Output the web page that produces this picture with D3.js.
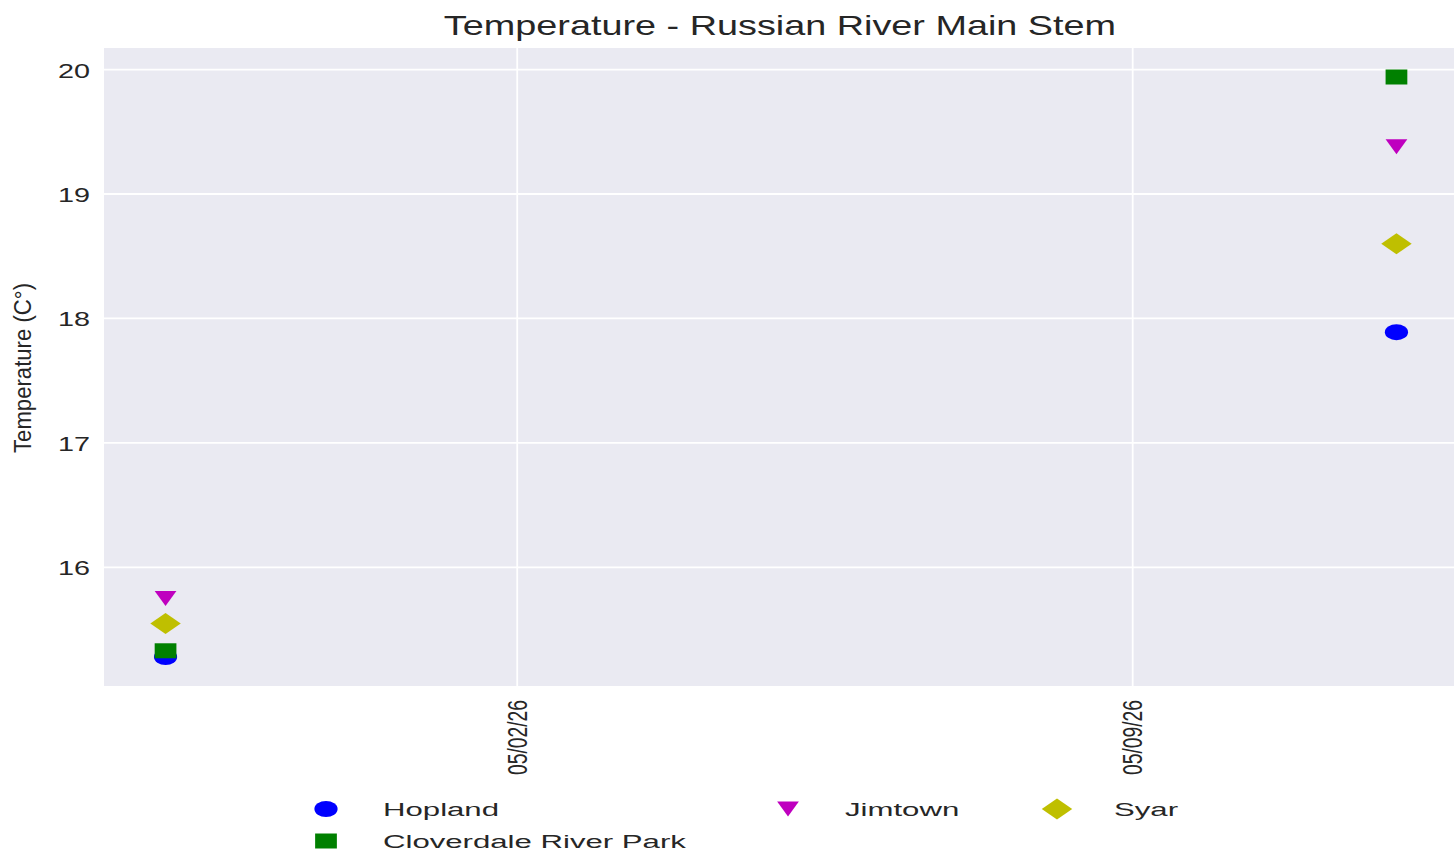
<!DOCTYPE html>
<html lang="en">
<head>
<meta charset="utf-8">
<title>Temperature - Russian River Main Stem</title>
<script src="https://cdn.jsdelivr.net/npm/d3@7"></script>
<style>
  body { margin: 0; background: #fff; }
  text { font-family: "Liberation Sans", Arial, sans-serif; fill: #262626; }
</style>
</head>
<body>
<div id="chart"></div>
<script>
// sample dates and temperatures (C) per site
var dates = ["2026-04-28", "2026-05-12"];
var hopland = [15.28, 17.89];
var cloverdale = [15.33, 19.94];
var jimtown = [15.75, 19.38];
var syar = [15.55, 18.60];
var siteNames = ["Hopland", "Cloverdale River Park", "Jimtown", "Syar"];
var xTicks = ["2026-05-02", "2026-05-09"];
var yTicks = [16, 17, 18, 19, 20];

var W = 1454, H = 859;
// the plot runs a few pixels past the right edge of the picture
var margin = {top: 48, right: -4, bottom: 173, left: 104};
var sx = 1.45; // the picture is stretched sideways

var parse = d3.timeParse("%Y-%m-%d");
var fmt = d3.timeFormat("%m/%d/%y");

// custom marker shapes
var triDown = { draw: function(ctx, size) {
  var r = Math.sqrt(size) / 2;
  ctx.moveTo(-r, -r); ctx.lineTo(r, -r); ctx.lineTo(0, r); ctx.closePath();
}};
var diamond = { draw: function(ctx, size) {
  var r = Math.sqrt(size) / 2;
  ctx.moveTo(0, -r); ctx.lineTo(r, 0); ctx.lineTo(0, r); ctx.lineTo(-r, 0); ctx.closePath();
}};

var series = [
  {name: siteNames[0], values: hopland,    color: "#0000ff", type: d3.symbolCircle, size: Math.PI * 64},
  {name: siteNames[1], values: cloverdale, color: "#008000", type: d3.symbolSquare, size: 225},
  {name: siteNames[2], values: jimtown,    color: "#bf00bf", type: triDown,         size: 225},
  {name: siteNames[3], values: syar,       color: "#bfbf00", type: diamond,         size: 441}
];

var svg = d3.select("#chart").append("svg")
    .attr("width", W).attr("height", H);

// x scale with 5% padding like matplotlib
var tDates = dates.map(parse);
var span = tDates[1] - tDates[0];
var xScale = d3.scaleTime()
    .domain([new Date(+tDates[0] - span * 0.05), new Date(+tDates[1] + span * 0.05)])
    .range([margin.left, W - margin.right]);

var allVals = hopland.concat(cloverdale, jimtown, syar);
var yMin = d3.min(allVals), yMax = d3.max(allVals), yPad = (yMax - yMin) * 0.05;
var yScale = d3.scaleLinear()
    .domain([yMin - yPad, yMax + yPad])
    .range([H - margin.bottom, margin.top]);

// plot background
svg.append("rect")
    .attr("x", margin.left).attr("y", margin.top)
    .attr("width", W - margin.left - margin.right)
    .attr("height", H - margin.top - margin.bottom)
    .attr("fill", "#eaeaf2");

// grid lines
svg.append("g").selectAll("line").data(yTicks).enter().append("line")
    .attr("x1", margin.left).attr("x2", W - margin.right)
    .attr("y1", d => yScale(d)).attr("y2", d => yScale(d))
    .attr("stroke", "#fff").attr("stroke-width", 1.8);

svg.append("g").selectAll("line").data(xTicks).enter().append("line")
    .attr("x1", d => xScale(parse(d))).attr("x2", d => xScale(parse(d)))
    .attr("y1", margin.top).attr("y2", H - margin.bottom)
    .attr("stroke", "#fff").attr("stroke-width", 1.8);

// stretch text sideways by a factor k
function stretch(sel, k) {
  sel.each(function() {
    var n = this.getComputedTextLength();
    d3.select(this).attr("textLength", n * k).attr("lengthAdjust", "spacingAndGlyphs");
  });
}

// y tick labels
svg.append("g").selectAll("text").data(yTicks).enter().append("text")
    .attr("x", 90).attr("y", d => yScale(d) + 8)
    .attr("text-anchor", "end")
    .attr("font-size", 21)
    .text(d => d)
    .call(stretch, 1.37);

// x tick labels, rotated
svg.append("g").selectAll("text").data(xTicks).enter().append("text")
    .attr("transform", d => "translate(" + xScale(parse(d)) + "," + 700 + ") scale(" + sx + ",1) rotate(-90)")
    .attr("text-anchor", "end")
    .attr("dy", "0.35em")
    .attr("font-size", 19.3)
    .text(d => fmt(parse(d)));

// y axis label
svg.append("text")
    .attr("transform", "translate(31," + ((margin.top + H - margin.bottom) / 2 + 1) + ") scale(1.12,1) rotate(-90)")
    .attr("text-anchor", "middle")
    .attr("font-size", 21)
    .attr("textLength", 170).attr("lengthAdjust", "spacingAndGlyphs")
    .text("Temperature (C\u00b0)");

// title
svg.append("text")
    .attr("x", 780).attr("y", 35)
    .attr("text-anchor", "middle")
    .attr("font-size", 28)
    .text("Temperature - Russian River Main Stem")
    .call(stretch, 1.35);

// points
var sym = d3.symbol();
series.forEach(function(s) {
  svg.append("g").selectAll("path").data(s.values).enter().append("path")
      .attr("d", sym.type(s.type).size(s.size)())
      .attr("transform", (d, i) => "translate(" + xScale(tDates[i]) + "," + yScale(d) + ") scale(" + sx + ",1)")
      .attr("fill", s.color);
});

// legend, 3 columns filled column by column
var legendCols = [326, 788, 1057], legendRows = [809, 841];
var legendPos = [[0, 0], [0, 1], [1, 0], [2, 0]];
var legend = svg.append("g").selectAll("g").data(series).enter().append("g")
    .attr("transform", (d, i) => "translate(" + legendCols[legendPos[i][0]] + "," + legendRows[legendPos[i][1]] + ")");
legend.append("path")
    .attr("d", d => d3.symbol().type(d.type).size(d.size)())
    .attr("transform", "scale(" + sx + ",1)")
    .attr("fill", d => d.color);
legend.append("text")
    .attr("x", 57).attr("y", 7)
    .attr("font-size", 18)
    .text(d => d.name)
    .call(stretch, 1.73);
</script>
</body>
</html>
